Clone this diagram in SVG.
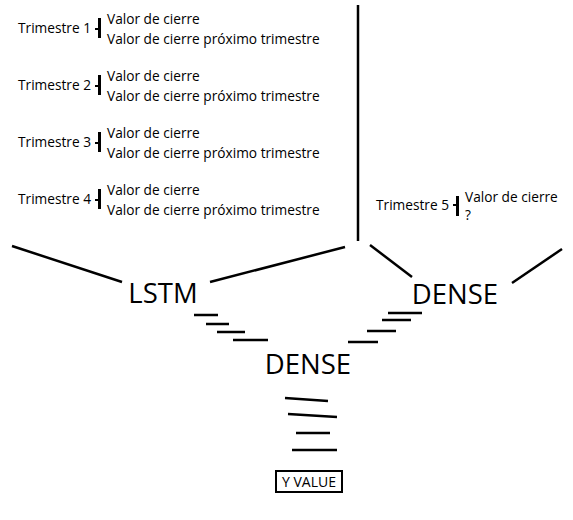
<svg xmlns="http://www.w3.org/2000/svg" width="573" height="520" viewBox="0 0 573 520">
<style>
.t{font-family:"Open Sans","Noto Sans",sans-serif;font-size:13.7px;fill:#000}
.big{font-family:"Open Sans","Noto Sans",sans-serif;font-size:27.5px;fill:#000}
.sm{font-family:"Open Sans","Noto Sans",sans-serif;font-size:14px;fill:#000}
.ln{stroke:#000;stroke-width:2.5;fill:none;stroke-linecap:butt}
.br{stroke:#000;fill:none}
</style>
<rect width="573" height="520" fill="#fff"/>
<g id="t1">
<text class="t" x="18" y="33">Trimestre 1</text>
<path class="br" d="M99.5 18V38" stroke-width="3"/><path class="br" d="M95 29H99" stroke-width="2"/>
<text class="t" x="107" y="24">Valor de cierre</text>
<text class="t" x="107" y="44">Valor de cierre próximo trimestre</text>
</g>
<g id="t2">
<text class="t" x="18" y="90">Trimestre 2</text>
<path class="br" d="M99.5 75V95" stroke-width="3"/><path class="br" d="M95 86H99" stroke-width="2"/>
<text class="t" x="107" y="81">Valor de cierre</text>
<text class="t" x="107" y="101">Valor de cierre próximo trimestre</text>
</g>
<g id="t3">
<text class="t" x="18" y="147">Trimestre 3</text>
<path class="br" d="M99.5 132V152" stroke-width="3"/><path class="br" d="M95 143H99" stroke-width="2"/>
<text class="t" x="107" y="138">Valor de cierre</text>
<text class="t" x="107" y="158">Valor de cierre próximo trimestre</text>
</g>
<g id="t4">
<text class="t" x="18" y="204">Trimestre 4</text>
<path class="br" d="M99.5 189V209" stroke-width="3"/><path class="br" d="M95 200H99" stroke-width="2"/>
<text class="t" x="107" y="195">Valor de cierre</text>
<text class="t" x="107" y="215">Valor de cierre próximo trimestre</text>
</g>
<g id="t5">
<text class="t" x="376" y="210">Trimestre 5</text>
<path class="br" d="M457.5 196V216" stroke-width="3"/><path class="br" d="M453 205H457" stroke-width="2"/>
<text class="t" x="465" y="202">Valor de cierre</text>
<text class="t" x="465" y="220">?</text>
</g>
<g id="lstm"><text class="big" x="163" y="303" text-anchor="middle">LSTM</text></g>
<g id="dense1"><text class="big" x="455" y="304" text-anchor="middle">DENSE</text></g>
<g id="dense2"><text class="big" x="308" y="374" text-anchor="middle">DENSE</text></g>
<g id="yvalue">
<rect x="276" y="471" width="66" height="21" fill="none" stroke="#000" stroke-width="2"/>
<text class="sm" x="309" y="487" text-anchor="middle">Y VALUE</text>
</g>
<g id="connectors">
<path class="ln" d="M358 5V241" stroke-width="3"/>
<path class="ln" d="M12 246L122 282"/>
<path class="ln" d="M210 282L345 247"/>
<path class="ln" d="M370 245L412 277"/>
<path class="ln" d="M512 283L562 249"/>
<path class="ln" d="M194 315H218M206 324H229M217 332H245M233 340H268"/>
<path class="ln" d="M388 313H422M382 320H411M367 331H396M348 342H378"/>
<path class="ln" d="M285 398L328 401M288 414L337 417M296 433H330M292 450H337"/>
</g>
</svg>
